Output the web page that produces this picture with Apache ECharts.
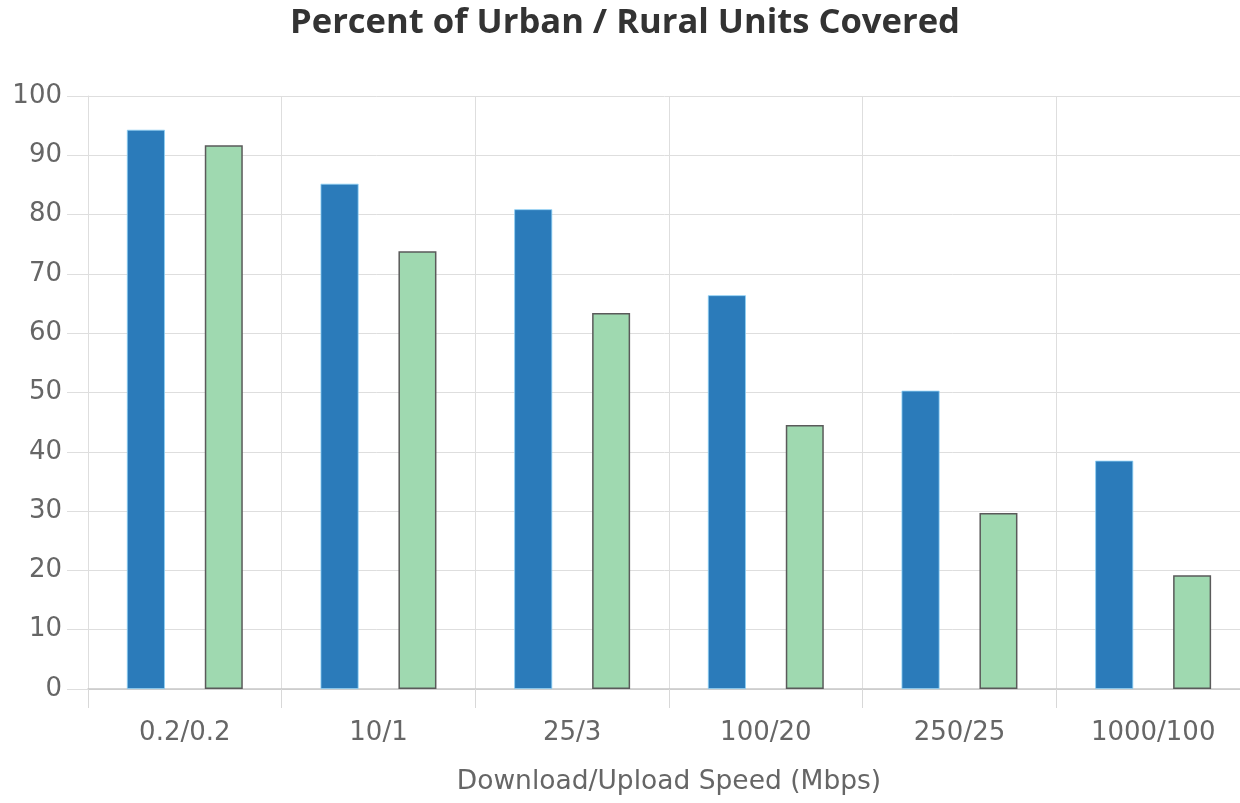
<!DOCTYPE html>
<html>
<head>
<meta charset="utf-8">
<script src="https://cdn.jsdelivr.net/npm/echarts@6/dist/echarts.min.js"></script>
<style>
html,body{margin:0;padding:0;background:#fff;}
#chart{width:1240px;height:803px;}
</style>
</head>
<body>
<div id="chart"></div>
<script>
const titleText = 'Percent of Urban / Rural Units Covered';
const categories = ['0.2/0.2', '10/1', '25/3', '100/20', '250/25', '1000/100'];
const urbanValues = [94.3, 85.2, 80.9, 66.4, 50.3, 38.5];
const ruralValues = [91.7, 73.8, 63.4, 44.5, 29.7, 19.2];
const yTicks = [0, 100, 10]; // min, max, interval
const xAxisName = 'Download/Upload Speed (Mbps)';

const chart = echarts.init(document.getElementById('chart'));
chart.setOption({
  animation: false,
  backgroundColor: '#fff',
  title: {
    text: titleText,
    left: 285,
    top: 1,
    textStyle: { fontFamily: 'Open Sans', fontWeight: 'bold', fontSize: 34.6, color: '#333' }
  },
  grid: { left: 88, width: 1162, top: 96, bottom: 114, containLabel: false, outerBoundsMode: 'none' },
  xAxis: {
    type: 'category',
    data: categories,
    name: xAxisName,
    nameLocation: 'middle',
    nameGap: 80,
    nameTextStyle: { fontFamily: 'DejaVu Sans', fontSize: 26.5, color: '#666' },
    axisLine: { show: true, lineStyle: { color: '#c8c8c8', width: 1.5 } },
    axisTick: { show: true, length: 19, lineStyle: { color: '#d8d8d8' } },
    axisLabel: { margin: 31, fontFamily: 'DejaVu Sans', fontSize: 26, color: '#666' },
    splitLine: { show: true, lineStyle: { color: '#dedede' } }
  },
  yAxis: {
    type: 'value',
    min: yTicks[0], max: yTicks[1], interval: yTicks[2],
    axisLine: { show: true, lineStyle: { color: '#dedede' } },
    axisTick: { show: true, length: 21, lineStyle: { color: '#dedede' } },
    axisLabel: { margin: 26, fontFamily: 'DejaVu Sans', fontSize: 26, color: '#666' },
    splitLine: { show: true, lineStyle: { color: '#dedede' } }
  },
  series: [
    {
      name: 'Urban', type: 'bar', data: urbanValues,
      barWidth: 38, barGap: '105%',
      itemStyle: { color: '#2b7bba', borderColor: '#8fd0f5', borderWidth: 0.8 }
    },
    {
      name: 'Rural', type: 'bar', data: ruralValues,
      barWidth: 38,
      itemStyle: { color: '#9fd9b0', borderColor: '#5a5a5a', borderWidth: 1.5 }
    }
  ]
});
</script>
</body>
</html>
